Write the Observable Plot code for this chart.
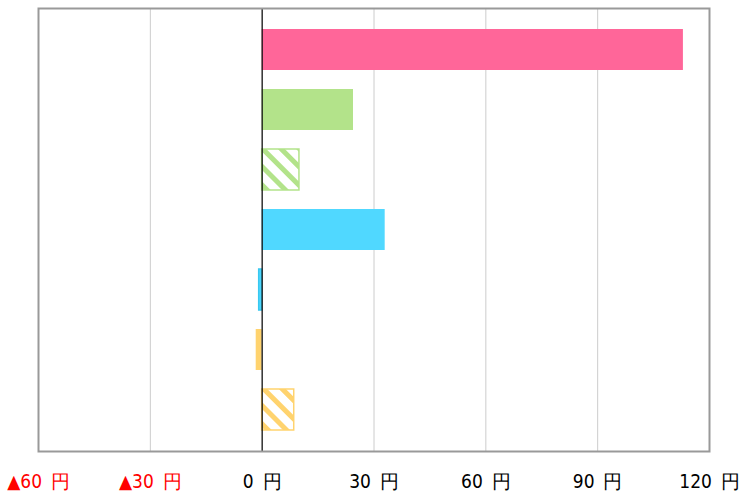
<!DOCTYPE html>
<html><head><meta charset="utf-8">
<script src="https://cdn.jsdelivr.net/npm/d3@7"></script>
<script src="https://cdn.jsdelivr.net/npm/@observablehq/plot@0.6"></script>
<style>body{margin:0;background:#fff}</style>
</head><body><div id="chart"></div>
<script>
const categories = ["A","B","C","D","E","F","G"];
const values = [113, 24.5, 10, 33, -0.8, -1.6, 8.6];
const fills = ["#ff6699","#b3e38a","url(#hatchGreen)","#50d8ff","#50d8ff","#ffd36e","url(#hatchOrange)"];
const strokes = ["none","none","#b3e38a","none","#38c8f0","none","#ffd36e"];
const tickValues = [-60,-30,0,30,60,90,120];
const tickLabel = v => (v < 0 ? "▲" + Math.abs(v) : v) + "\u2009 円";

const data = categories.map((c,i)=>({c, v: values[i], fill: fills[i], stroke: strokes[i]}));
const font = "'DejaVu Sans Condensed', 'DejaVu Sans', sans-serif";

const plot = Plot.plot({
  width: 740, height: 493,
  marginLeft: 38, marginRight: 31, marginTop: 8, marginBottom: 42,
  style: {fontFamily: font, background: "#fff"},
  x: {domain: [-60, 120], axis: null, label: null},
  y: {domain: categories, paddingInner: 0.32, paddingOuter: 0.33, axis: null},
  marks: [
    Plot.ruleX(tickValues.filter(t => t !== 0), {stroke: "#cccccc", strokeWidth: 1}),
    Plot.barX(data, {y: "c", x: "v", fill: d => d.fill, stroke: d => d.stroke, strokeWidth: 1.5, inset: 0}),
    Plot.ruleX([0], {stroke: "#111", strokeWidth: 1.3}),
    Plot.frame({stroke: "#999", strokeWidth: 2}),
    Plot.text(tickValues.filter(t => t < 0), {x: d => d, text: tickLabel, frameAnchor: "bottom", dy: 36, fontSize: 19, fontFamily: font, fill: "red"}),
    Plot.text(tickValues.filter(t => t >= 0), {x: d => d, text: tickLabel, frameAnchor: "bottom", dy: 36, fontSize: 19, fontFamily: font, fill: "black"})
  ]
});

// hatch patterns
const svg = d3.select(plot);
const defs = svg.insert("defs", ":first-child");
function hatch(id, color) {
  const p = defs.append("pattern").attr("id", id).attr("patternUnits", "userSpaceOnUse")
    .attr("width", 13).attr("height", 13).attr("patternTransform", "rotate(-45)");
  p.append("rect").attr("width", 13).attr("height", 13).attr("fill", "#fff");
  p.append("rect").attr("x", 0).attr("width", 5).attr("height", 13).attr("fill", color);
}
hatch("hatchGreen", "#b3e38a");
hatch("hatchOrange", "#ffd36e");

document.getElementById("chart").appendChild(plot);
</script></body></html>
